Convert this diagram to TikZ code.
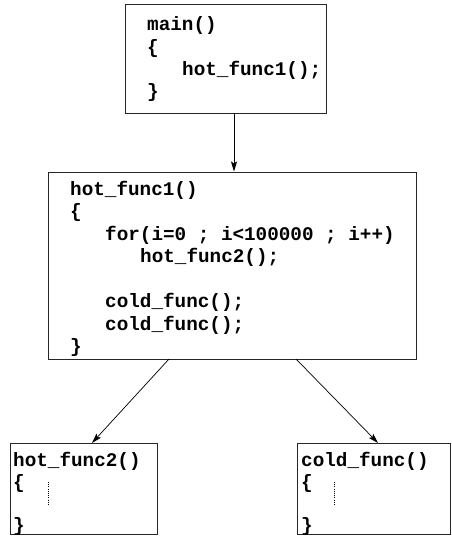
\documentclass[tikz,border=0pt]{standalone}
\usepackage{fontspec}
\setmonofont{Liberation Mono}
\usetikzlibrary{arrows.meta}
\tikzset{
  box/.style={draw=black!85, line width=0.9pt, rectangle, inner sep=0pt},
  code/.style={anchor=base west, inner sep=0pt, font=\fontsize{19.3}{23}\selectfont\ttfamily\bfseries},
  call/.style={draw=black, line width=0.7pt, -{Stealth[length=10pt,width=6pt,inset=2pt]}},
  dots/.style={draw=black, line width=0.6pt, dash pattern=on 0.6pt off 1.6pt}
}
\begin{document}
\begin{tikzpicture}[x=1pt,y=-1pt]
\useasboundingbox (0,0) rectangle (452,543);
% boxes
\node[box, minimum width=201pt, minimum height=109pt] (main) at (225.5,58.5) {};
\node[box, minimum width=368pt, minimum height=187pt] (hf1) at (232,265.5) {};
\node[box, minimum width=147pt, minimum height=91pt] (hf2) at (83.5,488.5) {};
\node[box, minimum width=153pt, minimum height=91pt] (cold) at (374,488.5) {};
% main text
\node[code] (m1) at (147,31) {main()};
\node[code] (m2) at (147,53) {\{};
\node[code] (m3) at (182,75) {hot\_func1();};
\node[code] (m4) at (147,97) {\}};
% hot_func1 text
\node[code] (h1) at (70,195) {hot\_func1()};
\node[code] (h2) at (70,217.5) {\{};
\node[code] (h3) at (105,240) {for(i=0 ; i<100000 ; i++)};
\node[code] (h4) at (140,262.5) {hot\_func2();};
\node[code] (h5) at (105,307.5) {cold\_func();};
\node[code] (h6) at (105,330) {cold\_func();};
\node[code] (h7) at (70,352.5) {\}};
% hot_func2 text
\node[code] (a1) at (13,466) {hot\_func2()};
\node[code] (a2) at (13,488) {\{};
\node[code] (a3) at (13,531) {\}};
% cold_func text
\node[code] (b1) at (301,466) {cold\_func()};
\node[code] (b2) at (301,488) {\{};
\node[code] (b3) at (301,531) {\}};
% dotted lines
\coordinate (d1t) at (48,482); \coordinate (d1b) at (48,506);
\coordinate (d2t) at (334,482); \coordinate (d2b) at (334,506);
\draw[dots] (d1t) -- (d1b);
\draw[dots] (d2t) -- (d2b);
% connectors
\coordinate (ms) at (234,113);
\coordinate (hn) at (234,171.5);
\coordinate (hsl) at (169,359);
\coordinate (hsr) at (296,359);
\coordinate (an) at (92,443);
\coordinate (bn) at (378,443);
\draw[call] (ms) -- (hn);
\draw[call] (hsl) -- (an);
\draw[call] (hsr) -- (bn);
\end{tikzpicture}
\end{document}
